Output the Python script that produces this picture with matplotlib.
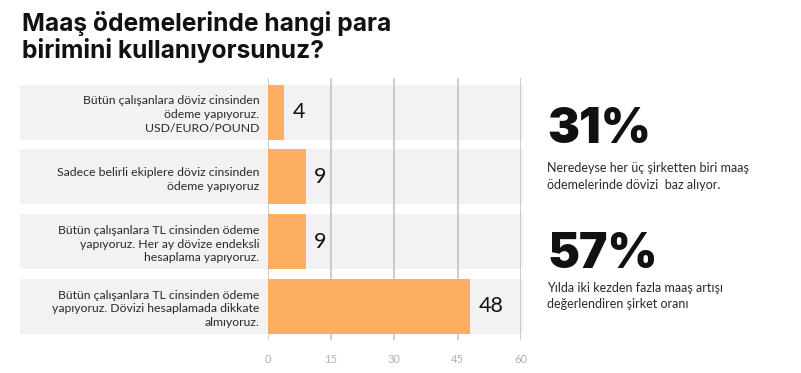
import numpy as np
import matplotlib.pyplot as plt

# survey answers (number of companies)
categories = [
    "Bütün çalışanlara döviz cinsinden\nödeme yapıyoruz.\nUSD/EURO/POUND",
    "Sadece belirli ekiplere döviz cinsinden\nödeme yapıyoruz",
    "Bütün çalışanlara TL cinsinden ödeme\nyapıyoruz. Her ay dövize endeksli\nhesaplama yapıyoruz.",
    "Bütün çalışanlara TL cinsinden ödeme\nyapıyoruz. Dövizi hesaplamada dikkate\nalmıyoruz.",
]
counts = [4, 9, 9, 48]
x_ticks = [0, 15, 30, 45, 60]

title = "Maaş ödemelerinde hangi para\nbirimini kullanıyorsunuz?"
stat_values = ["31%", "57%"]
stat_notes = [
    "Neredeyse her üç şirketten biri maaş\nödemelerinde dövizi  baz alıyor.",
    "Yılda iki kezden fazla maaş artışı\ndeğerlendiren şirket oranı",
]

W, H = 801, 373
fig = plt.figure(figsize=(W / 100, H / 100), dpi=100)
ax = fig.add_axes([267.6 / W, 1 - 340 / H, (521 - 267.6) / W, (340 - 78) / H])

y = np.arange(len(categories))
xmax = 60

# grey row bands reaching into the label area
px_per_unit = (521 - 267.6) / xmax
band_left = -(267.6 - 20) / px_per_unit
ax.barh(y, xmax + 0.5 - band_left, left=band_left, height=0.85,
        color='#f2f2f2', zorder=0, clip_on=False)

for xt in x_ticks:
    ax.axvline(xt, color='#c4c4c4', lw=1.2, zorder=1)

ax.barh(y, counts, height=0.85, color='#fdae61', zorder=2)
for yi, c in zip(y, counts):
    ax.text(c + 2.0, yi, str(c), va='center', ha='left', fontsize=15.5,
            color='#111111', family='Lato', zorder=3)

ax.set_xlim(0, xmax)
ax.set_ylim(3.52, -0.53)
ax.set_xticks(x_ticks)
ax.set_xticklabels([str(t) for t in x_ticks], color='#b0b0b0', fontsize=8, family='Lato')
ax.set_yticks(y)
ax.set_yticklabels(categories, fontsize=8.8, color='#2a2a2a', family='Lato', linespacing=1.3)
ax.tick_params(length=0, axis='y', pad=6)
ax.tick_params(length=0, axis='x', pad=10)
for s in ax.spines.values():
    s.set_visible(False)

fig.text(22 / W, 1 - 11 / H, title, ha='left', va='top', fontsize=17.7,
         fontweight='bold', family='Inter', color='#111111', linespacing=1.12)

stat_base = [143, 268]
note_top = [162, 282]
for v, n, sb, nt in zip(stat_values, stat_notes, stat_base, note_top):
    fig.text(547 / W, 1 - sb / H, v, ha='left', va='baseline', fontsize=34.5,
             fontweight='black', family='Inter', color='#111111')
    fig.text(547 / W, 1 - nt / H, n, ha='left', va='top', fontsize=9,
             family='Lato', color='#2a2a2a', linespacing=1.45)

fig.savefig('out.png', dpi=100)
